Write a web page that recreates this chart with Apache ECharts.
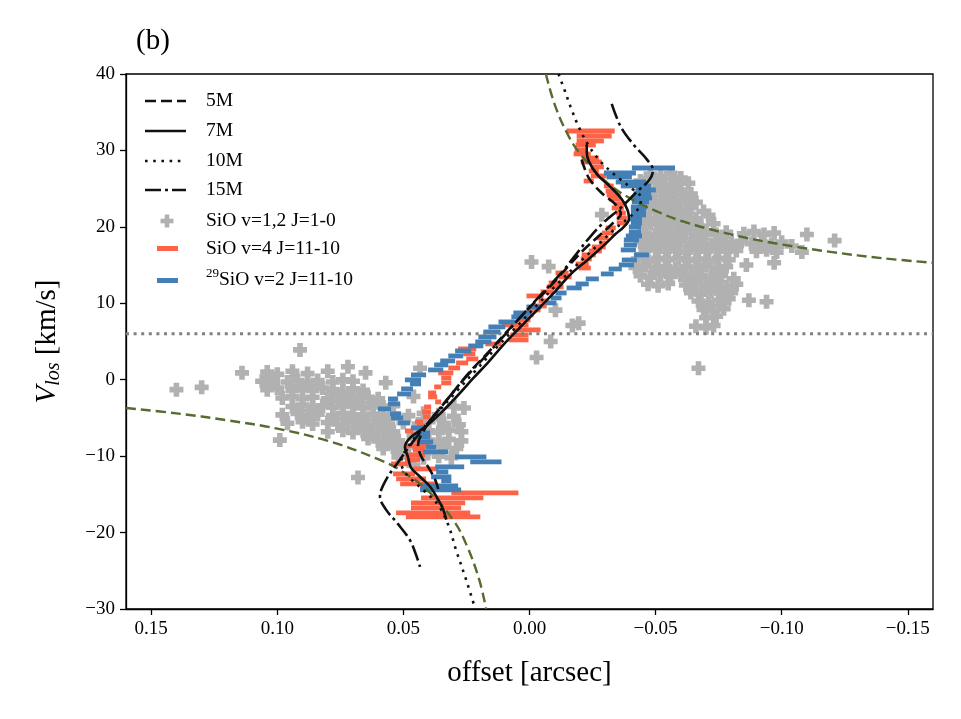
<!DOCTYPE html>
<html>
<head>
<meta charset="utf-8">
<script src="https://cdn.jsdelivr.net/npm/echarts@6/dist/echarts.min.js"></script>
<style>
  html, body { margin: 0; padding: 0; background: #fff; }
  #chart { width: 961px; height: 719px; }
</style>
</head>
<body>
<div id="chart"></div>
<script>
// model curves, [offset arcsec, Vlos km/s]
var m5 = [[-0.0207,28.8],[-0.0235,26.4],[-0.0287,24.4],[-0.0342,22.9],[-0.0362,21.7],[-0.0334,20.6],[-0.0275,18.8],[-0.0215,17.0],[-0.0147,14.6],[-0.0076,12.0],[0.0004,9.3],[0.0084,6.5],[0.0163,3.6],[0.0243,0.8],[0.0314,-2.1],[0.0378,-4.7],[0.0422,-6.8],[0.0442,-8.5],[0.0430,-10.0],[0.0402,-11.4],[0.0374,-13.1],[0.0362,-14.3]];
var m7 = [[-0.0227,30.8],[-0.0227,29.8],[-0.0235,28.6],[-0.0267,26.9],[-0.0322,25.2],[-0.0366,23.6],[-0.0390,22.1],[-0.0394,21.0],[-0.0374,20.0],[-0.0342,19.1],[-0.0302,17.8],[-0.0235,15.8],[-0.0163,13.8],[-0.0103,11.6],[-0.0036,9.3],[0.0036,6.9],[0.0103,4.6],[0.0163,2.3],[0.0223,0.2],[0.0283,-2.0],[0.0350,-4.3],[0.0414,-6.2],[0.0470,-7.5],[0.0494,-8.8],[0.0482,-10.1],[0.0470,-11.5],[0.0434,-12.7],[0.0394,-14.0],[0.0362,-15.7],[0.0342,-17.0],[0.0330,-18.3]];
var m10 = [[-0.0115,40.0],[-0.0139,37.9],[-0.0163,35.7],[-0.0195,33.1],[-0.0235,30.6],[-0.0283,28.5],[-0.0342,26.7],[-0.0402,25.1],[-0.0442,23.8],[-0.0434,22.5],[-0.0394,21.2],[-0.0334,19.6],[-0.0267,17.5],[-0.0187,15.0],[-0.0107,12.4],[-0.0028,9.7],[0.0052,6.9],[0.0131,4.2],[0.0211,1.3],[0.0291,-1.6],[0.0370,-4.5],[0.0442,-7.1],[0.0490,-9.2],[0.0509,-10.8],[0.0490,-12.3],[0.0422,-14.4],[0.0362,-16.4],[0.0322,-19.0],[0.0291,-22.3],[0.0251,-26.2],[0.0215,-30.0]];
var m15 = [[-0.0326,36.1],[-0.0362,33.1],[-0.0414,30.7],[-0.0466,28.8],[-0.0490,27.4],[-0.0474,26.1],[-0.0426,24.6],[-0.0362,22.5],[-0.0295,20.6],[-0.0243,18.8],[-0.0187,16.5],[-0.0127,14.0],[-0.0056,11.5],[0.0016,8.9],[0.0092,6.1],[0.0171,3.2],[0.0251,0.4],[0.0322,-2.4],[0.0394,-5.3],[0.0462,-8.1],[0.0521,-10.8],[0.0569,-13.1],[0.0593,-15.3],[0.0569,-17.0],[0.0521,-18.9],[0.0474,-21.0],[0.0450,-22.9],[0.0434,-24.5]];

// green dashed curves and systemic velocity line
var keplerUpper = [[-0.0065,40.0],[-0.010,36.0],[-0.015,32.2],[-0.020,29.6],[-0.030,26.0],[-0.040,23.7],[-0.050,22.1],[-0.060,20.8],[-0.080,19.0],[-0.100,17.7],[-0.120,16.7],[-0.140,15.9],[-0.160,15.3]];
var keplerLower = [[0.160,-3.7],[0.140,-4.4],[0.120,-5.3],[0.100,-6.4],[0.080,-8.0],[0.060,-10.4],[0.050,-12.1],[0.040,-14.6],[0.030,-18.5],[0.025,-21.6],[0.020,-26.1],[0.0172,-30.0]];
var vsys = 6;

// SiO v=4 J=11-10 channels: velocity, offset range
var redV = [32.54,31.89,31.24,30.71,30.06,29.54,29.01,28.49,27.84,27.31,26.66,26.00,25.35,24.70,24.17,23.65,23.00,22.47,21.82,21.16,20.51,19.86,19.20,18.55,17.89,17.37,16.85,16.33,15.80,15.15,14.62,13.97,13.45,12.66,12.14,11.49,10.96,10.31,9.65,9.13,8.48,7.82,7.17,6.52,5.86,5.21,4.68,4.03,3.38,2.72,2.20,1.54,0.89,0.24,-0.42,-0.94,-1.73,-2.25,-2.90,-3.56,-4.21,-4.86,-5.52,-6.04,-6.70,-7.22,-7.87,-8.66,-9.18,-9.84,-10.49,-11.01,-11.67,-12.32,-12.97,-13.63,-14.15,-14.81,-15.46,-16.11,-16.77,-17.42,-17.94];
var redFrom = [-0.0147,-0.0187,-0.0187,-0.0183,-0.0179,-0.0175,-0.0207,-0.0203,-0.0247,-0.0235,-0.0243,-0.0215,-0.0295,-0.0302,-0.0306,-0.0314,-0.0334,-0.0326,-0.0342,-0.0346,-0.0346,-0.0302,-0.0287,-0.0267,-0.0275,-0.0247,-0.0235,-0.0207,-0.0203,-0.0183,-0.0195,-0.0103,-0.0115,-0.0076,-0.0068,-0.0044,0.0012,-0.0036,-0.0016,0.0012,0.0036,0.0044,0.0111,0.0064,0.0076,0.0084,0.0175,0.0283,0.0263,0.0251,0.0291,0.0322,0.0362,0.0350,0.0350,0.0378,0.0402,0.0402,0.0374,0.0418,0.0426,0.0422,0.0454,0.0446,0.0494,0.0470,0.0462,0.0494,0.0462,0.0494,0.0494,0.0549,0.0462,0.0541,0.0529,0.0513,0.0434,0.0310,0.0430,0.0470,0.0470,0.0529,0.0490];
var redTo = [-0.0338,-0.0326,-0.0295,-0.0263,-0.0223,-0.0243,-0.0275,-0.0287,-0.0295,-0.0275,-0.0306,-0.0255,-0.0334,-0.0346,-0.0362,-0.0362,-0.0382,-0.0374,-0.0382,-0.0386,-0.0386,-0.0342,-0.0334,-0.0314,-0.0306,-0.0302,-0.0287,-0.0263,-0.0247,-0.0235,-0.0243,-0.0155,-0.0167,-0.0127,-0.0135,-0.0096,-0.0056,-0.0076,-0.0068,-0.0044,-0.0016,-0.0004,0.0004,-0.0044,0.0004,0.0004,0.0111,0.0211,0.0215,0.0203,0.0243,0.0275,0.0302,0.0310,0.0310,0.0350,0.0370,0.0366,0.0350,0.0390,0.0390,0.0394,0.0422,0.0414,0.0462,0.0430,0.0430,0.0394,0.0414,0.0414,0.0434,0.0482,0.0362,0.0454,0.0410,0.0370,0.0314,0.0044,0.0183,0.0255,0.0271,0.0235,0.0195];

// 29SiO v=2 J=11-10 channels
var blueV = [27.70,27.05,26.53,25.87,25.35,24.83,24.30,23.78,23.26,22.60,22.08,21.56,21.03,20.51,19.99,19.33,18.81,18.29,17.63,16.98,16.33,15.67,15.02,14.49,13.84,13.19,12.53,12.01,11.35,10.70,10.05,9.52,8.74,8.22,7.56,6.91,6.25,5.60,4.95,4.42,3.77,3.11,2.46,1.94,1.28,0.63,-0.02,-0.55,-1.20,-1.86,-2.51,-3.16,-3.82,-4.47,-5.00,-5.65,-6.30,-6.96,-7.48,-8.13,-8.79,-9.44,-10.10,-10.75,-11.40,-12.06,-12.71,-13.24,-13.89,-14.41];
var blueFrom = [-0.0406,-0.0295,-0.0306,-0.0342,-0.0362,-0.0422,-0.0414,-0.0402,-0.0406,-0.0402,-0.0402,-0.0402,-0.0394,-0.0402,-0.0394,-0.0394,-0.0382,-0.0374,-0.0374,-0.0362,-0.0414,-0.0366,-0.0354,-0.0314,-0.0283,-0.0223,-0.0183,-0.0147,-0.0103,-0.0084,-0.0064,0.0012,0.0064,0.0072,0.0123,0.0163,0.0183,0.0203,0.0215,0.0243,0.0295,0.0322,0.0354,0.0378,0.0402,0.0470,0.0494,0.0474,0.0509,0.0525,0.0561,0.0561,0.0601,0.0553,0.0549,0.0521,0.0470,0.0450,0.0462,0.0442,0.0410,0.0422,0.0295,0.0235,0.0374,0.0370,0.0390,0.0350,0.0430,0.0434];
var blueTo = [-0.0577,-0.0422,-0.0406,-0.0462,-0.0482,-0.0501,-0.0482,-0.0486,-0.0474,-0.0466,-0.0462,-0.0462,-0.0446,-0.0446,-0.0442,-0.0442,-0.0446,-0.0434,-0.0426,-0.0422,-0.0474,-0.0426,-0.0414,-0.0366,-0.0334,-0.0275,-0.0235,-0.0207,-0.0147,-0.0127,-0.0107,-0.0048,-0.0008,0.0004,0.0056,0.0096,0.0115,0.0131,0.0151,0.0183,0.0231,0.0263,0.0295,0.0322,0.0342,0.0410,0.0430,0.0430,0.0462,0.0470,0.0521,0.0513,0.0549,0.0509,0.0501,0.0474,0.0414,0.0394,0.0394,0.0382,0.0370,0.0322,0.0171,0.0111,0.0259,0.0322,0.0310,0.0310,0.0283,0.0271];

// SiO v=1,2 J=1-0 spots
var siO10 = [
  [-0.048,26.9],[-0.052,26.6],[-0.056,27.0],[-0.060,26.4],
  [-0.046,25.7],[-0.050,25.9],[-0.054,25.6],[-0.058,25.8],[-0.063,25.7],[-0.044,26.0],
  [-0.044,24.6],[-0.048,24.4],[-0.052,24.7],[-0.056,24.5],[-0.060,24.8],[-0.064,24.3],
  [-0.046,23.5],[-0.050,23.3],[-0.054,23.6],[-0.058,23.4],[-0.062,23.6],[-0.066,23.2],
  [-0.044,22.4],[-0.048,22.6],[-0.052,22.3],[-0.056,22.5],[-0.060,22.2],[-0.064,22.5],[-0.069,22.0],
  [-0.046,21.3],[-0.050,21.1],[-0.054,21.4],[-0.058,21.2],[-0.062,21.4],[-0.066,21.1],[-0.071,21.5],
  [-0.044,20.2],[-0.048,20.4],[-0.052,20.1],[-0.056,20.3],[-0.060,20.0],[-0.064,20.3],[-0.068,20.1],[-0.073,20.4],
  [-0.046,19.1],[-0.050,18.9],[-0.054,19.2],[-0.058,19.0],[-0.062,19.3],[-0.066,18.9],[-0.070,19.2],[-0.074,19.0],[-0.078,19.3],[-0.085,19.1],[-0.089,19.4],[-0.093,19.0],[-0.097,19.2],[-0.110,19.0],
  [-0.044,18.0],[-0.048,17.8],[-0.052,18.1],[-0.056,17.9],[-0.060,18.2],[-0.064,17.8],[-0.068,18.0],[-0.072,17.7],[-0.076,18.1],[-0.080,17.9],[-0.084,18.1],[-0.088,17.8],[-0.092,18.0],[-0.096,17.7],[-0.100,18.0],[-0.104,17.5],[-0.121,18.2],
  [-0.046,16.9],[-0.050,17.1],[-0.054,16.8],[-0.058,17.0],[-0.062,16.7],[-0.066,17.0],[-0.070,16.8],[-0.074,17.1],[-0.078,16.8],[-0.082,16.9],[-0.090,16.8],[-0.094,17.0],[-0.098,16.7],[-0.108,16.7],
  [-0.043,15.8],[-0.047,15.6],[-0.051,15.9],[-0.055,15.7],[-0.059,15.9],[-0.063,15.6],[-0.067,15.8],[-0.071,15.6],[-0.075,15.9],[-0.079,15.7],
  [-0.042,14.7],[-0.046,14.9],[-0.050,14.6],[-0.054,14.8],[-0.058,14.5],[-0.062,14.8],[-0.066,14.6],[-0.070,14.9],[-0.074,14.6],[-0.078,14.8],[-0.086,15.0],[-0.097,15.3],
  [-0.044,13.6],[-0.048,13.4],[-0.052,13.7],[-0.056,13.5],[-0.060,13.7],[-0.064,13.4],[-0.068,13.6],[-0.072,13.3],[-0.076,13.6],[-0.081,13.2],
  [-0.047,12.5],[-0.051,12.3],[-0.055,12.6],[-0.062,12.4],[-0.066,12.6],[-0.070,12.3],[-0.074,12.5],[-0.078,12.2],[-0.082,12.5],
  [-0.064,11.4],[-0.068,11.2],[-0.072,11.5],[-0.076,11.3],[-0.080,11.4],
  [-0.067,10.3],[-0.071,10.1],[-0.075,10.4],[-0.079,10.6],[-0.087,10.4],[-0.094,10.2],
  [-0.069,9.2],[-0.073,9.0],[-0.077,9.3],
  [-0.070,8.1],[-0.074,8.3],
  [-0.066,7.0],[-0.070,6.8],[-0.073,7.1],
  [-0.067,1.5],
  [-0.0195,7.4],[-0.017,7.1],[-0.0287,21.6],[-0.0008,15.4],[-0.0076,14.8],[-0.0103,9.1],[-0.0084,5.0],[-0.0028,2.9],[0.0434,1.5],[0.046,-2.2],
  [0.091,3.9],[0.072,1.7],
  [0.114,0.9],[0.104,1.0],[0.100,0.7],[0.094,1.1],[0.088,0.8],[0.080,1.1],[0.065,0.9],
  [0.106,-0.2],[0.102,0.0],[0.096,-0.3],[0.092,-0.1],[0.088,-0.4],[0.084,-0.1],[0.078,-0.3],[0.074,0.0],[0.070,-0.2],[0.057,-0.4],
  [0.140,-1.3],[0.130,-1.0],[0.104,-1.3],[0.100,-1.1],[0.094,-1.4],[0.090,-1.2],[0.086,-1.4],[0.082,-1.1],[0.078,-1.3],[0.074,-1.5],[0.070,-1.2],[0.066,-1.4],
  [0.098,-2.4],[0.094,-2.2],[0.090,-2.5],[0.086,-2.3],[0.080,-2.5],[0.076,-2.2],[0.072,-2.4],[0.068,-2.6],[0.064,-2.3],[0.060,-2.5],
  [0.094,-3.5],[0.090,-3.3],[0.086,-3.6],[0.082,-3.4],[0.078,-3.6],[0.074,-3.3],[0.070,-3.5],[0.066,-3.7],[0.062,-3.4],[0.058,-3.6],[0.054,-3.4],[0.030,-3.5],[0.026,-3.7],
  [0.098,-4.6],[0.092,-4.4],[0.088,-4.7],[0.084,-4.5],[0.078,-4.7],[0.074,-4.4],[0.070,-4.6],[0.066,-4.8],[0.062,-4.5],[0.058,-4.7],[0.054,-4.5],[0.048,-4.7],[0.042,-4.4],[0.036,-4.6],[0.030,-4.8],
  [0.096,-5.7],[0.090,-5.5],[0.086,-5.8],[0.080,-5.6],[0.076,-5.8],[0.072,-5.5],[0.068,-5.7],[0.064,-5.9],[0.060,-5.6],[0.056,-5.8],[0.050,-5.6],[0.044,-5.8],[0.040,-5.5],[0.034,-5.7],[0.028,-5.9],
  [0.080,-6.8],[0.074,-6.6],[0.070,-6.9],[0.066,-6.7],[0.062,-6.9],[0.058,-6.6],[0.054,-6.8],[0.046,-7.0],[0.040,-6.7],[0.036,-6.9],[0.032,-6.6],[0.027,-6.8],
  [0.099,-7.9],[0.064,-7.7],[0.060,-8.0],[0.056,-7.8],[0.052,-8.0],[0.046,-7.7],[0.040,-7.9],[0.036,-8.1],[0.032,-7.8],[0.027,-8.0],
  [0.058,-9.0],[0.054,-8.8],[0.050,-9.1],[0.044,-8.9],[0.040,-9.1],[0.034,-8.8],[0.029,-9.0],
  [0.052,-10.1],[0.048,-9.9],[0.042,-10.2],[0.036,-10.0],[0.031,-10.2],
  [0.046,-11.2],[0.068,-12.8]
];

var SERIF = '"Liberation Serif", "DejaVu Serif", serif';
var CROSS = 'path://M4.2,0h5.6v4.2h4.2v5.6h-4.2v4.2h-5.6v-4.2h-4.2v-5.6h4.2z';

function rows(from, to, v) {
  return v.map(function (val, i) { return [from[i], to[i], val]; });
}

function hbar(params, api) {
  var a = api.coord([api.value(0), api.value(2)]);
  var b = api.coord([api.value(1), api.value(2)]);
  var h = 4.8;
  return {
    type: 'rect',
    shape: { x: Math.min(a[0], b[0]), y: a[1] - h / 2, width: Math.max(Math.abs(b[0] - a[0]), 1), height: h },
    style: { fill: api.visual('color') }
  };
}

function modelLine(name, data, dash) {
  return {
    name: name, type: 'line', data: data, symbol: 'none', smooth: 0.35, z: 6,
    lineStyle: { color: '#111', width: 2.6, type: dash },
    clip: true
  };
}

var chart = echarts.init(document.getElementById('chart'));

var legendRows = [
  { y: 101, text: '5M', dash: [11, 5] },
  { y: 131, text: '7M', dash: null },
  { y: 161, text: '10M', dash: [2.6, 5.6] },
  { y: 190, text: '15M', dash: [16, 4, 3, 4] }
];
var graphics = [];
legendRows.forEach(function (r) {
  graphics.push({ type: 'line', shape: { x1: 145, y1: r.y, x2: 186, y2: r.y },
    style: { stroke: '#111', lineWidth: 2.6, lineDash: r.dash } });
  graphics.push({ type: 'text', x: 206, y: r.y,
    style: { text: r.text, fontFamily: SERIF, fontSize: 19.5, fill: '#000', verticalAlign: 'middle' } });
});
graphics.push({ type: 'rect', shape: { x: 160.5, y: 218.7, width: 13, height: 4.6 }, style: { fill: '#b1b1b1' } });
graphics.push({ type: 'rect', shape: { x: 164.7, y: 214.5, width: 4.6, height: 13 }, style: { fill: '#b1b1b1' } });
graphics.push({ type: 'text', x: 206, y: 221,
  style: { text: 'SiO v=1,2 J=1-0', fontFamily: SERIF, fontSize: 19.5, fill: '#000', verticalAlign: 'middle' } });
graphics.push({ type: 'rect', shape: { x: 157, y: 246, width: 21, height: 5 }, style: { fill: '#fe6347' } });
graphics.push({ type: 'text', x: 206, y: 249,
  style: { text: 'SiO v=4 J=11-10', fontFamily: SERIF, fontSize: 19.5, fill: '#000', verticalAlign: 'middle' } });
graphics.push({ type: 'rect', shape: { x: 157, y: 278, width: 21, height: 5 }, style: { fill: '#4480b5' } });
graphics.push({ type: 'text', x: 206, y: 280,
  style: { text: '{s|29}{n|SiO v=2 J=11-10}', fontFamily: SERIF, fill: '#000', verticalAlign: 'middle',
    rich: { s: { fontFamily: SERIF, fontSize: 13, verticalAlign: 'top', lineHeight: 14 },
            n: { fontFamily: SERIF, fontSize: 19.5, lineHeight: 26 } } } });

var option = {
  animation: false,
  backgroundColor: '#fff',
  title: { text: '(b)', left: 131, top: 22, textStyle: { fontFamily: SERIF, fontSize: 29, fontWeight: 'normal', color: '#000' } },
  grid: { left: 126, right: 28, top: 74, bottom: 110, show: true, borderColor: '#000', borderWidth: 1.3, backgroundColor: 'transparent' },
  xAxis: {
    type: 'value', min: -0.16, max: 0.16, inverse: true,
    name: 'offset [arcsec]', nameLocation: 'middle', nameGap: 50,
    nameTextStyle: { fontFamily: SERIF, fontSize: 29, color: '#000' },
    axisLine: { show: true, onZero: false, lineStyle: { color: '#000', width: 1.3 } },
    axisTick: { show: true, length: 6, lineStyle: { color: '#000', width: 1.3 } },
    axisLabel: { showMinLabel: false, showMaxLabel: false, margin: 11, fontFamily: SERIF, fontSize: 19, color: '#000',
      formatter: function (v) { var s = Math.abs(v).toFixed(2); return v < -1e-9 ? '\u2212' + s : s; } },
    splitLine: { show: false }
  },
  yAxis: {
    type: 'value', min: -30, max: 40, interval: 10,
    name: '{i|V}{s|los}{n| [km/s]}', nameLocation: 'middle', nameGap: 62, nameRotate: 90,
    nameTextStyle: { fontFamily: SERIF, fontSize: 29, color: '#000',
      rich: { i: { fontFamily: SERIF, fontSize: 29, fontStyle: 'italic', lineHeight: 34 },
              s: { fontFamily: SERIF, fontSize: 20, fontStyle: 'italic', verticalAlign: 'bottom', lineHeight: 22 },
              n: { fontFamily: SERIF, fontSize: 29, lineHeight: 34 } } },
    axisLine: { show: true, onZero: false, lineStyle: { color: '#000', width: 1.3 } },
    axisTick: { show: true, length: 6, lineStyle: { color: '#000', width: 1.3 } },
    axisLabel: { margin: 11, fontFamily: SERIF, fontSize: 19, color: '#000',
      formatter: function (v) { return v < 0 ? '\u2212' + Math.abs(v) : String(v); } },
    splitLine: { show: false }
  },
  graphic: graphics,
  series: [
    { name: 'SiO v=1,2 J=1-0', type: 'scatter', data: siO10, symbol: CROSS, symbolSize: 14, z: 1,
      itemStyle: { color: '#b1b1b1', opacity: 1 } },
    { name: 'SiO v=4 J=11-10', type: 'custom', renderItem: hbar, data: rows(redFrom, redTo, redV),
      encode: { x: [0, 1], y: 2 }, itemStyle: { color: '#fe6347' }, z: 2, clip: true },
    { name: '29SiO v=2 J=11-10', type: 'custom', renderItem: hbar, data: rows(blueFrom, blueTo, blueV),
      encode: { x: [0, 1], y: 2 }, itemStyle: { color: '#4480b5' }, z: 3, clip: true },
    { name: 'kepler+', type: 'line', data: keplerUpper, symbol: 'none', smooth: 0.4, z: 4, clip: true,
      lineStyle: { color: '#556b2f', width: 2.4, type: [10, 5] } },
    { name: 'kepler-', type: 'line', data: keplerLower, symbol: 'none', smooth: 0.4, z: 4, clip: true,
      lineStyle: { color: '#556b2f', width: 2.4, type: [10, 5] } },
    { name: 'vsys', type: 'line', data: [[0.16, vsys], [-0.16, vsys]], symbol: 'none', z: 5,
      lineStyle: { color: '#808080', width: 3, type: [3, 4.6] } },
    modelLine('5M', m5, [11, 5]),
    modelLine('7M', m7, 'solid'),
    modelLine('10M', m10, [2.6, 5.6]),
    modelLine('15M', m15, [16, 4, 3, 4])
  ]
};
chart.setOption(option);
</script>
</body>
</html>
